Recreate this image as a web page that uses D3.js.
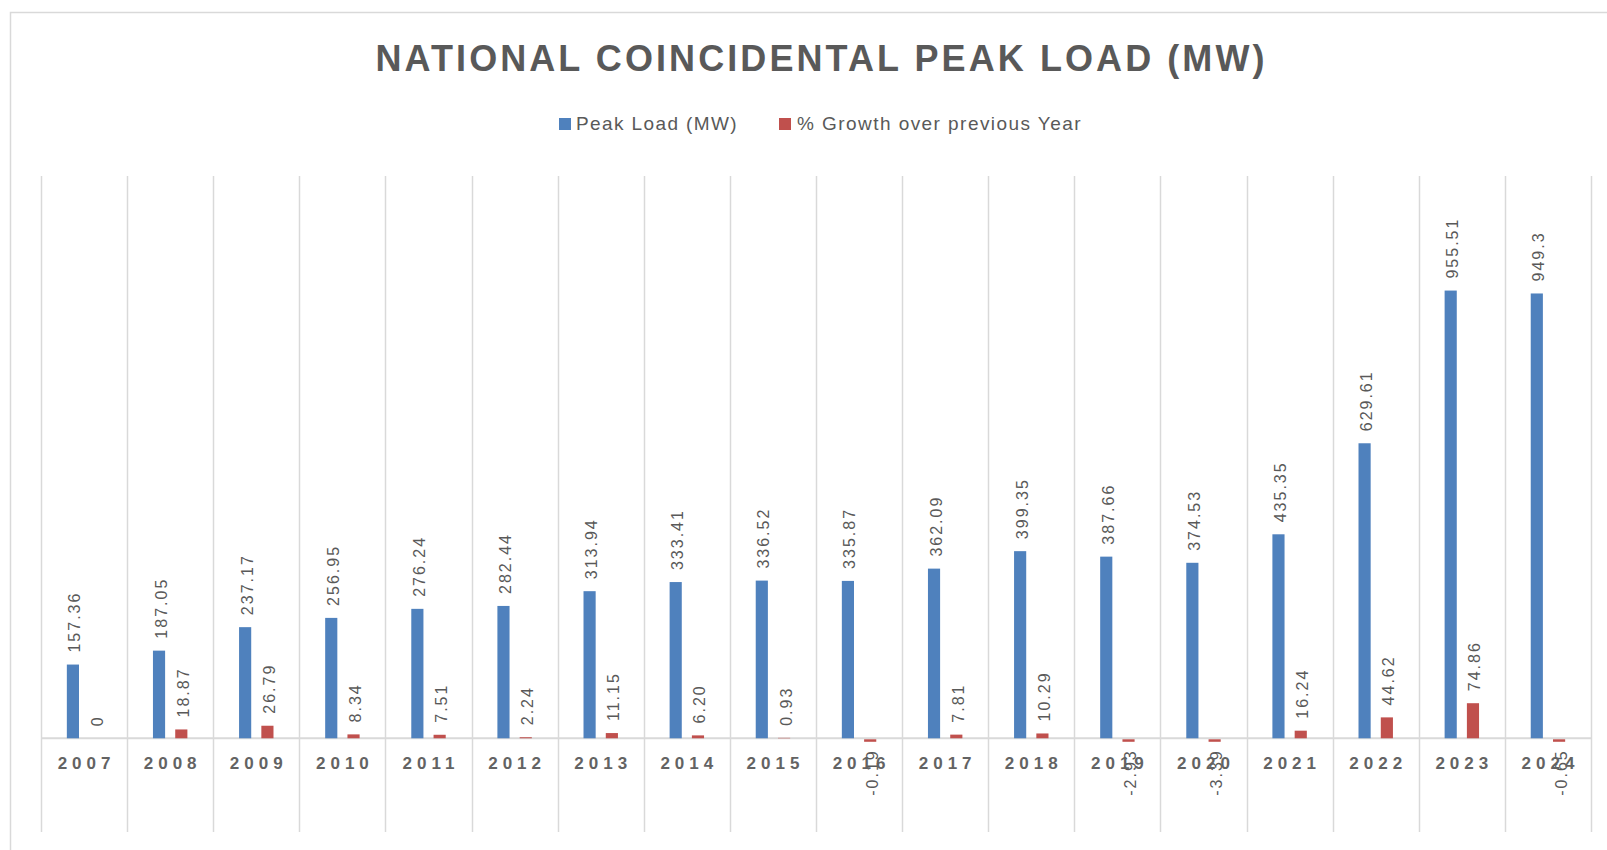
<!DOCTYPE html>
<html>
<head>
<meta charset="utf-8">
<script src="https://cdn.jsdelivr.net/npm/d3@7"></script>
<style>
  html, body { margin: 0; padding: 0; background: #fff; }
  svg { display: block; }
  text { font-family: "Liberation Sans", Arial, sans-serif; }
</style>
</head>
<body>
<svg id="chart" width="1607" height="850"></svg>
<script>
// ---------- data ----------
const years = ["2007","2008","2009","2010","2011","2012","2013","2014","2015","2016","2017","2018","2019","2020","2021","2022","2023","2024"];
const peakLoad = [157.36,187.05,237.17,256.95,276.24,282.44,313.94,333.41,336.52,335.87,362.09,399.35,387.66,374.53,435.35,629.61,955.51,949.3];
const growth = [0,18.87,26.79,8.34,7.51,2.24,11.15,6.20,0.93,-0.19,7.81,10.29,-2.93,-3.39,16.24,44.62,74.86,-0.65];
const growthLabels = ["0","18.87","26.79","8.34","7.51","2.24","11.15","6.20","0.93","-0.19","7.81","10.29","-2.93","-3.39","16.24","44.62","74.86","-0.65"];
const peakLabels = ["157.36","187.05","237.17","256.95","276.24","282.44","313.94","333.41","336.52","335.87","362.09","399.35","387.66","374.53","435.35","629.61","955.51","949.3"];
const seriesNames = ["Peak Load (MW)", "% Growth over previous Year"];
const seriesColors = ["#4F81BD", "#C0504D"];
const title = "NATIONAL COINCIDENTAL PEAK LOAD (MW)";
const yDomain = [-200, 1200];

// ---------- layout ----------
const svg = d3.select("#chart");
const plot = { left: 41, right: 1591, top: 176, bottom: 832 };
const gray = "#595959";
const gridColor = "#D9D9D9";

// outer border
svg.append("rect")
  .attr("x", 10.5).attr("y", 12.5)
  .attr("width", 1640).attr("height", 900)
  .attr("fill", "none").attr("stroke", gridColor).attr("stroke-width", 1.5);

// scales
const x0 = d3.scaleBand().domain(years).range([plot.left, plot.right]).paddingInner(0).paddingOuter(0);
const x1 = d3.scaleBand().domain([0, 1]).range([0, x0.bandwidth()]).paddingInner(0.4545).paddingOuter(1.16);
const y = d3.scaleLinear().domain(yDomain).range([plot.bottom, plot.top]);

// vertical category separators
const bounds = years.map(d => x0(d)).concat([x0(years[years.length - 1]) + x0.bandwidth()]);
svg.append("g").selectAll("line").data(bounds).join("line")
  .attr("x1", d => Math.round(d) + 0.5).attr("x2", d => Math.round(d) + 0.5)
  .attr("y1", plot.top).attr("y2", plot.bottom)
  .attr("stroke", gridColor).attr("stroke-width", 1.5);

// zero axis line
svg.append("line")
  .attr("x1", plot.left).attr("x2", plot.right)
  .attr("y1", y(0)).attr("y2", y(0))
  .attr("stroke", gridColor).attr("stroke-width", 2);

// bars
const rows = years.map((yr, i) => ({ yr, vals: [peakLoad[i], growth[i]], labels: [peakLabels[i], growthLabels[i]] }));
const groups = svg.append("g").selectAll("g").data(rows).join("g")
  .attr("transform", d => `translate(${x0(d.yr)},0)`);

groups.selectAll("rect").data(d => d.vals.map((v, s) => ({ v, s }))).join("rect")
  .attr("x", d => x1(d.s))
  .attr("width", x1.bandwidth())
  .attr("y", d => d.v >= 0 ? y(d.v) : y(0) + 1)
  .attr("height", d => {
    const h = Math.abs(y(d.v) - y(0));
    return d.v < 0 ? Math.max(h, 2.5) : h;
  })
  .attr("fill", d => seriesColors[d.s]);

// data labels (rotated)
groups.selectAll("text.lbl").data(d => d.vals.map((v, s) => ({ v, s, t: d.labels[s] }))).join("text")
  .attr("class", "lbl")
  .attr("transform", d => {
    const cx = x1(d.s) + x1.bandwidth() / 2 + 7.5;
    const cy = d.v >= 0 ? y(d.v) - 12 : y(0) + 11;
    return `translate(${cx},${cy}) rotate(-90)`;
  })
  .attr("text-anchor", d => d.v >= 0 ? "start" : "end")
  .attr("font-size", 16)
  .attr("letter-spacing", 2)
  .attr("fill", gray)
  .text(d => d.t);

// category labels
svg.append("g").selectAll("text").data(years).join("text")
  .attr("x", d => x0(d) + x0.bandwidth() / 2 + 2.5)
  .attr("y", 769)
  .attr("text-anchor", "middle")
  .attr("font-size", 17)
  .attr("font-weight", "bold")
  .attr("letter-spacing", 5)
  .attr("fill", "#636363")
  .text(d => d);

// title
const t = svg.append("text")
  .attr("x", 820).attr("y", 71)
  .attr("text-anchor", "middle")
  .attr("font-size", 36)
  .attr("font-weight", "bold")
  .attr("fill", gray)
  .text(title);
{
  const w = t.node().getComputedTextLength();
  const ls = (892 - w) / title.length;
  t.attr("letter-spacing", ls).attr("x", 820 + ls / 2);
}

// legend
const legendItems = [
  { name: seriesNames[0], color: seriesColors[0], sx: 559, tx: 576, tw: 162 },
  { name: seriesNames[1], color: seriesColors[1], sx: 779, tx: 797, tw: 285 }
];
const lg = svg.append("g");
legendItems.forEach(it => {
  lg.append("rect").attr("x", it.sx).attr("y", 118).attr("width", 12).attr("height", 12).attr("fill", it.color);
  const tx = lg.append("text").attr("x", it.tx).attr("y", 130)
    .attr("font-size", 19).attr("fill", gray).text(it.name);
  const w = tx.node().getComputedTextLength();
  tx.attr("letter-spacing", (it.tw - w) / it.name.length);
});
</script>
</body>
</html>
